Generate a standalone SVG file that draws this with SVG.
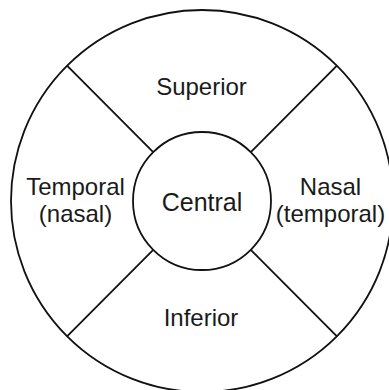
<svg xmlns="http://www.w3.org/2000/svg" width="389" height="390" viewBox="0 0 389 390">
<style>
.s{fill:none;stroke:#111;stroke-width:1.8}
text{font-family:"Liberation Sans",Arial,sans-serif;font-size:24px;fill:#1a1a1a;text-anchor:middle}
</style>
<rect width="389" height="390" fill="#fff"/>
<g id="outer"><circle class="s" cx="202" cy="201" r="191"/></g>
<g id="connectors">
<line class="s" x1="67.3" y1="65.9" x2="153.2" y2="152.2"/>
<line class="s" x1="336.7" y1="65.9" x2="250.8" y2="152.2"/>
<line class="s" x1="67.3" y1="336.1" x2="153.2" y2="249.8"/>
<line class="s" x1="336.7" y1="336.1" x2="250.8" y2="249.8"/>
</g>
<g id="central"><circle class="s" cx="202" cy="201" r="69"/><text x="202" y="210.5" style="font-size:25px">Central</text></g>
<g id="superior"><text x="201.5" y="95">Superior</text></g>
<g id="inferior"><text x="201" y="326">Inferior</text></g>
<g id="temporal"><text x="75.5" y="194.5">Temporal</text><text x="75.5" y="221.5">(nasal)</text></g>
<g id="nasal"><text x="330.5" y="194.5">Nasal</text><text x="330.5" y="221.5">(temporal)</text></g>
</svg>
